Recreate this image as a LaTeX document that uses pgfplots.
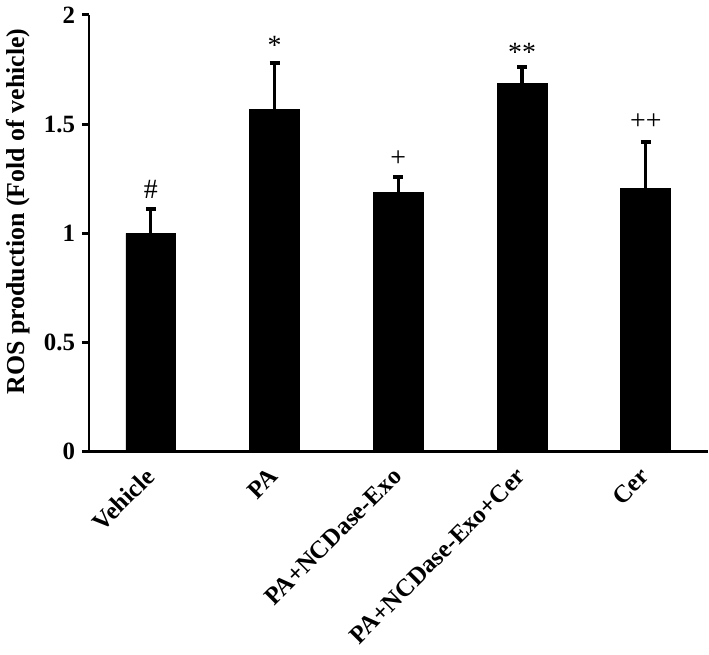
\documentclass[border=0pt]{standalone}
\usepackage{fontspec}
\setmainfont{Liberation Serif}
\usepackage{pgfplots}
\pgfplotsset{compat=1.18}
\begin{document}
\begin{tikzpicture}
\begin{axis}[
  width=310bp, height=219bp, scale only axis,
  xmin=-0.5, xmax=4.5,
  ymin=0, ymax=2,
  axis x line*=bottom, axis y line*=left,
  axis line style={line width=1.4bp},
  ytick={0,0.5,1,1.5,2},
  yticklabels={0,0.5,1,1.5,2},
  yticklabel style={font=\fontsize{12.5}{14}\selectfont\bfseries},
  xtick={0,1,2,3,4},
  xticklabels={Vehicle,PA,PA+NCDase-Exo,PA+NCDase-Exo+Cer,Cer},
  xticklabel style={font=\fontsize{12.5}{14}\selectfont\bfseries, rotate=45, anchor=north east, inner sep=1pt, yshift=1bp, xshift=-4bp},
  xtick style={draw=none},
  minor xtick={-0.5,0.5,1.5,2.5,3.5,4.5},
  tick align=outside,
  major tick length=3.5bp, minor tick length=4bp,
  every tick/.style={line width=1.4bp, black},
  every minor tick/.style={line width=1.4bp, black},
  ylabel={\bfseries ROS production (Fold of vehicle)},
  ylabel style={font=\fontsize{13}{15}\selectfont, at={(ticklabel cs:0.55)}},
  clip=false,
]
\addplot [ybar, bar width=25bp, fill=black, draw=black,
  error bars/.cd, y dir=plus, y explicit,
  error mark=|,
  error bar style={line width=1.6bp},
  error mark options={line width=2bp, mark size=2.5bp, black}]
coordinates {
  (0,1.000) +- (0,0.11)
  (1,1.566) +- (0,0.214)
  (2,1.187) +- (0,0.073)
  (3,1.685) +- (0,0.075)
  (4,1.205) +- (0,0.215)
};
\node[font=\fontsize{14}{14}\selectfont] at (axis cs:0,1.20) {\#};
\node[font=\fontsize{14}{14}\selectfont] at (axis cs:1,1.86) {*};
\node[font=\fontsize{14}{14}\selectfont] at (axis cs:2,1.34) {+};
\node[font=\fontsize{14}{14}\selectfont] at (axis cs:3,1.83) {**};
\node[font=\fontsize{14}{14}\selectfont] at (axis cs:4,1.51) {++};
\end{axis}
\path (current bounding box.south) ++(0,-3bp);
\end{tikzpicture}
\end{document}
